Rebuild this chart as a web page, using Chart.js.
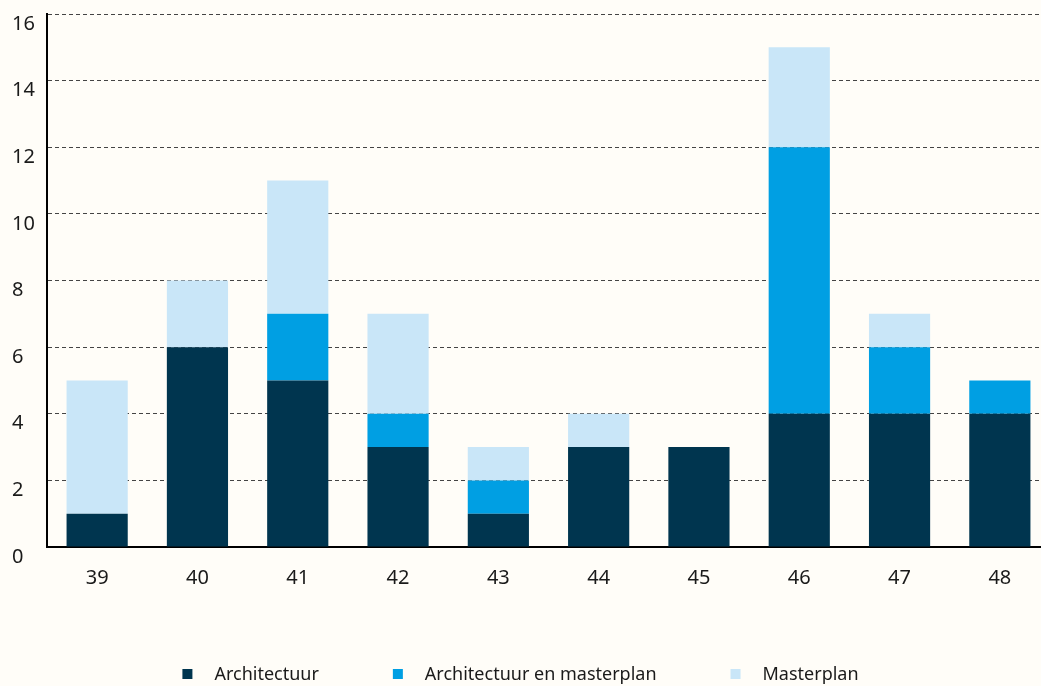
<!DOCTYPE html>
<html>
<head>
<meta charset="utf-8">
<script src="https://cdn.jsdelivr.net/npm/chart.js@4"></script>
<style>
  html, body { margin: 0; padding: 0; background: #fffdf8; overflow: hidden; }
  #wrap { width: 1050px; height: 686px; }
</style>
</head>
<body>
<div id="wrap"><canvas id="myChart"></canvas></div>
<script>
// data
var weeks = ['39', '40', '41', '42', '43', '44', '45', '46', '47', '48'];
var architectuur = [1, 6, 5, 3, 1, 3, 3, 4, 4, 4];
var architectuurMasterplan = [0, 0, 2, 1, 1, 0, 0, 8, 2, 1];
var masterplan = [4, 2, 4, 3, 1, 1, 0, 3, 1, 0];
var seriesNames = ['Architectuur', 'Architectuur en masterplan', 'Masterplan'];
var yTicks = [0, 2, 4, 6, 8, 10, 12, 14, 16];

var fontFam = '"Noto Sans", "Open Sans", sans-serif';
var textColor = '#1a1a1a';

// legend drawn by hand, centered under the visible part of the chart
var bottomLegend = {
  id: 'bottomLegend',
  afterDraw: function (chart) {
    var ctx = chart.ctx;
    var box = 10, gap = 22, between = 74;
    ctx.save();
    ctx.font = '18px ' + fontFam;
    var items = chart.data.datasets.map(function (ds) {
      var w = ctx.measureText(ds.label).width;
      return { label: ds.label, color: ds.backgroundColor, w: box + gap + w };
    });
    var total = items.reduce(function (s, it) { return s + it.w; }, 0) + between * (items.length - 1);
    var x = 520.5 - total / 2;
    var y = 674;
    ctx.textBaseline = 'middle';
    ctx.textAlign = 'left';
    items.forEach(function (it) {
      ctx.fillStyle = it.color;
      ctx.fillRect(x, y - box / 2, box, box);
      ctx.fillStyle = textColor;
      ctx.fillText(it.label, x + box + gap, y + 1);
      x += it.w + between;
    });
    ctx.restore();
  }
};

var ctx = document.getElementById('myChart').getContext('2d');

var myChart = new Chart(ctx, {
  type: 'bar',
  data: {
    labels: weeks,
    datasets: [{
      label: seriesNames[0],
      data: architectuur,
      backgroundColor: '#00354f'
    }, {
      label: seriesNames[1],
      data: architectuurMasterplan,
      backgroundColor: '#009fe3'
    }, {
      label: seriesNames[2],
      data: masterplan,
      backgroundColor: '#c9e6f8'
    }]
  },
  options: {
    responsive: true,
    maintainAspectRatio: false,
    animation: false,
    layout: { padding: { left: 12, top: 14, right: 0, bottom: 0 } },
    datasets: {
      bar: { barPercentage: 0.61, categoryPercentage: 1, borderWidth: 0 }
    },
    plugins: {
      legend: { display: false },
      tooltip: { enabled: false }
    },
    scales: {
      x: {
        stacked: true,
        grid: { display: false, drawTicks: false },
        border: { display: true, color: '#000', width: 2 },
        ticks: {
          color: textColor,
          font: { family: fontFam, size: 20 },
          padding: 19
        },
        afterFit: function (scale) { scale.height = 139; }
      },
      y: {
        stacked: true,
        min: 0,
        max: 16,
        afterBuildTicks: function (scale) {
          scale.ticks = yTicks.map(function (v) { return { value: v }; });
        },
        grid: { color: '#444', lineWidth: 1, drawTicks: false },
        border: { display: true, color: '#000', width: 2, dash: [4, 3] },
        ticks: {
          color: textColor,
          font: { family: fontFam, size: 20 },
          crossAlign: 'far',
          labelOffset: 10,
          padding: 0
        },
        afterFit: function (scale) { scale.width = 35; }
      }
    }
  },
  plugins: [bottomLegend]
});
</script>
</body>
</html>
